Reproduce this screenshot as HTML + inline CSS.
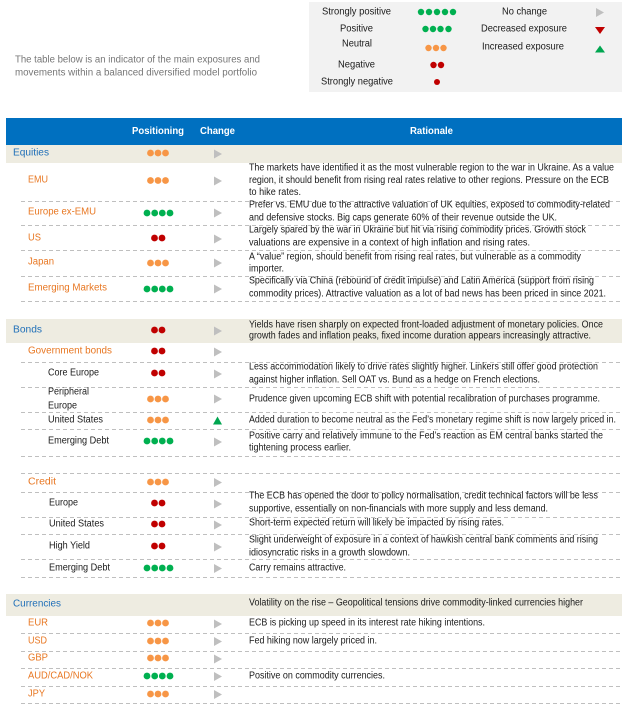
<!DOCTYPE html>
<html>
<head>
<meta charset="utf-8">
<style>
html,body{margin:0;padding:0;background:#fff;}
svg{display:block;}
text{font-family:"Liberation Sans",Arial,sans-serif;font-size:10px;dominant-baseline:central;}
.r{fill:#1a1a1a;}
.o{fill:#E87722;}
.b{fill:#1F6FB8;}
.k{fill:#1a1a1a;}
.h{fill:#fff;font-weight:bold;font-size:10.5px;}
.dash{stroke:#BFBFBF;stroke-width:1;stroke-dasharray:4 3;}
.tri{fill:#BFBFBF;}
.go{fill:#F79646;}
.gg{fill:#00B050;}
.gr{fill:#C00000;}
</style>
</head>
<body>
<svg width="628" height="705" viewBox="0 0 628 705" xmlns="http://www.w3.org/2000/svg">
<defs>
  <g id="o3"><circle cx="150.5" cy="0" r="3.4" class="go"/><circle cx="158" cy="0" r="3.4" class="go"/><circle cx="165.5" cy="0" r="3.4" class="go"/></g>
  <g id="g4"><circle cx="147" cy="0" r="3.4" class="gg"/><circle cx="154.7" cy="0" r="3.4" class="gg"/><circle cx="162.3" cy="0" r="3.4" class="gg"/><circle cx="170" cy="0" r="3.4" class="gg"/></g>
  <g id="r2"><circle cx="154.5" cy="0" r="3.4" class="gr"/><circle cx="162" cy="0" r="3.4" class="gr"/></g>
  <polygon id="pt" points="214,-4.5 222,0 214,4.5" class="tri"/>
</defs>

<!-- Intro -->
<text x="15" y="60" fill="#767676" textLength="245" lengthAdjust="spacingAndGlyphs">The table below is an indicator of the main exposures and</text>
<text x="15" y="73" fill="#767676" textLength="242" lengthAdjust="spacingAndGlyphs">movements within a balanced diversified model portfolio</text>

<!-- Legend -->
<rect x="309" y="2" width="313" height="90" fill="#F2F2F2"/>
<text x="322" y="12" class="k" textLength="69" lengthAdjust="spacingAndGlyphs">Strongly positive</text>
<g fill="#00B050"><circle cx="421" cy="12" r="3.2"/><circle cx="429" cy="12" r="3.2"/><circle cx="437" cy="12" r="3.2"/><circle cx="445" cy="12" r="3.2"/><circle cx="453" cy="12" r="3.2"/></g>
<text x="502" y="12" class="k" textLength="45" lengthAdjust="spacingAndGlyphs">No change</text>
<polygon points="596,8 604,12.5 596,17" fill="#BFBFBF"/>

<text x="340" y="29" class="k" textLength="33" lengthAdjust="spacingAndGlyphs">Positive</text>
<g fill="#00B050"><circle cx="425.5" cy="29" r="3.2"/><circle cx="433" cy="29" r="3.2"/><circle cx="440.5" cy="29" r="3.2"/><circle cx="448.5" cy="29" r="3.2"/></g>
<text x="481" y="29" class="k" textLength="86" lengthAdjust="spacingAndGlyphs">Decreased exposure</text>
<polygon points="595,27 605,27 600,34" fill="#C00000"/>

<text x="342" y="44" class="k" textLength="30" lengthAdjust="spacingAndGlyphs">Neutral</text>
<g fill="#F79646"><circle cx="428.5" cy="48" r="3.2"/><circle cx="436" cy="48" r="3.2"/><circle cx="443.5" cy="48" r="3.2"/></g>
<text x="482" y="47" class="k" textLength="82" lengthAdjust="spacingAndGlyphs">Increased exposure</text>
<polygon points="595,52.5 605,52.5 600,45.5" fill="#00A650"/>

<text x="338" y="65" class="k" textLength="37" lengthAdjust="spacingAndGlyphs">Negative</text>
<g fill="#C00000"><circle cx="433.5" cy="65" r="3.2"/><circle cx="441" cy="65" r="3.2"/></g>

<text x="321" y="82" class="k" textLength="72" lengthAdjust="spacingAndGlyphs">Strongly negative</text>
<circle cx="437" cy="82" r="3" fill="#C00000"/>

<!-- Header -->
<rect x="6" y="118" width="616" height="27" fill="#0070C0"/>
<text x="132" y="131" class="h" textLength="52" lengthAdjust="spacingAndGlyphs">Positioning</text>
<text x="200" y="131" class="h" textLength="35" lengthAdjust="spacingAndGlyphs">Change</text>
<text x="410" y="131" class="h" textLength="43" lengthAdjust="spacingAndGlyphs">Rationale</text>

<!-- Bands -->
<rect x="6" y="145" width="616" height="18" fill="#EEECE1"/>
<rect x="6" y="319" width="616" height="24" fill="#EEECE1"/>
<rect x="6" y="594" width="616" height="22" fill="#EEECE1"/>

<!-- Dashed lines -->
<g class="dash">
<line x1="21" y1="201.5" x2="622" y2="201.5"/>
<line x1="21" y1="225.5" x2="622" y2="225.5"/>
<line x1="21" y1="250.5" x2="622" y2="250.5"/>
<line x1="21" y1="276.5" x2="622" y2="276.5"/>
<line x1="21" y1="301.5" x2="622" y2="301.5"/>
<line x1="21" y1="362.5" x2="622" y2="362.5"/>
<line x1="21" y1="387.5" x2="622" y2="387.5"/>
<line x1="21" y1="412.5" x2="622" y2="412.5"/>
<line x1="21" y1="429.5" x2="622" y2="429.5"/>
<line x1="21" y1="456.5" x2="622" y2="456.5"/>
<line x1="21" y1="473.5" x2="622" y2="473.5"/>
<line x1="21" y1="492.5" x2="622" y2="492.5"/>
<line x1="21" y1="517.5" x2="622" y2="517.5"/>
<line x1="21" y1="534.5" x2="622" y2="534.5"/>
<line x1="21" y1="559.5" x2="622" y2="559.5"/>
<line x1="21" y1="577.5" x2="622" y2="577.5"/>
<line x1="21" y1="633.5" x2="622" y2="633.5"/>
<line x1="21" y1="651.5" x2="622" y2="651.5"/>
<line x1="21" y1="668.5" x2="622" y2="668.5"/>
<line x1="21" y1="686.5" x2="622" y2="686.5"/>
<line x1="21" y1="703.5" x2="622" y2="703.5"/>
</g>

<!-- Equities -->
<text x="13" y="153" class="b" textLength="36" lengthAdjust="spacingAndGlyphs">Equities</text>
<use href="#o3" y="153"/><use href="#pt" y="154"/>

<text x="28" y="180" class="o" textLength="20" lengthAdjust="spacingAndGlyphs">EMU</text>
<use href="#o3" y="180.5"/><use href="#pt" y="181"/>
<text x="249" y="168" class="r" textLength="365" lengthAdjust="spacingAndGlyphs">The markets have identified it as the most vulnerable region to the war in Ukraine. As a value</text>
<text x="249" y="180.5" class="r" textLength="360" lengthAdjust="spacingAndGlyphs">region, it should benefit from rising real rates relative to other regions. Pressure on the ECB</text>
<text x="249" y="192.5" class="r" textLength="52" lengthAdjust="spacingAndGlyphs">to hike rates.</text>

<text x="28" y="212" class="o" textLength="68" lengthAdjust="spacingAndGlyphs">Europe ex-EMU</text>
<use href="#g4" y="213"/><use href="#pt" y="213"/>
<text x="249" y="205" class="r" textLength="361" lengthAdjust="spacingAndGlyphs">Prefer vs. EMU due to the attractive valuation of UK equities, exposed to commodity-related</text>
<text x="249" y="218" class="r" textLength="308" lengthAdjust="spacingAndGlyphs">and defensive stocks. Big caps generate 60% of their revenue outside the UK.</text>

<text x="28" y="238" class="o" textLength="13" lengthAdjust="spacingAndGlyphs">US</text>
<use href="#r2" y="238"/><use href="#pt" y="239"/>
<text x="249" y="230" class="r" textLength="337" lengthAdjust="spacingAndGlyphs">Largely spared by the war in Ukraine but hit via rising commodity prices. Growth stock</text>
<text x="249" y="243" class="r" textLength="281" lengthAdjust="spacingAndGlyphs">valuations are expensive in a context of high inflation and rising rates.</text>

<text x="28" y="262" class="o" textLength="26" lengthAdjust="spacingAndGlyphs">Japan</text>
<use href="#o3" y="263"/><use href="#pt" y="263"/>
<text x="249" y="257" class="r" textLength="332" lengthAdjust="spacingAndGlyphs">A “value” region, should benefit from rising real rates, but vulnerable as a commodity</text>
<text x="249" y="269" class="r" textLength="35" lengthAdjust="spacingAndGlyphs">importer.</text>

<text x="28" y="288" class="o" textLength="79" lengthAdjust="spacingAndGlyphs">Emerging Markets</text>
<use href="#g4" y="289"/><use href="#pt" y="289"/>
<text x="249" y="281" class="r" textLength="345" lengthAdjust="spacingAndGlyphs">Specifically via China (rebound of credit impulse) and Latin America (support from rising</text>
<text x="249" y="294" class="r" textLength="357" lengthAdjust="spacingAndGlyphs">commodity prices). Attractive valuation as a lot of bad news has been priced in since 2021.</text>

<!-- Bonds -->
<text x="13" y="330" class="b" textLength="29" lengthAdjust="spacingAndGlyphs">Bonds</text>
<use href="#r2" y="330"/><use href="#pt" y="331"/>
<text x="249" y="325" class="r" textLength="354" lengthAdjust="spacingAndGlyphs">Yields have risen sharply on expected front-loaded adjustment of monetary policies. Once</text>
<text x="249" y="336" class="r" textLength="342" lengthAdjust="spacingAndGlyphs">growth fades and inflation peaks, fixed income duration appears increasingly attractive.</text>

<text x="28" y="351" class="o" textLength="84" lengthAdjust="spacingAndGlyphs">Government bonds</text>
<use href="#r2" y="351"/><use href="#pt" y="352"/>

<text x="48" y="373" class="k" textLength="51" lengthAdjust="spacingAndGlyphs">Core Europe</text>
<use href="#r2" y="373"/><use href="#pt" y="374"/>
<text x="249" y="367" class="r" textLength="349" lengthAdjust="spacingAndGlyphs">Less accommodation likely to drive rates slightly higher. Linkers still offer good protection</text>
<text x="249" y="380" class="r" textLength="291" lengthAdjust="spacingAndGlyphs">against higher inflation. Sell OAT vs. Bund as a hedge on French elections.</text>

<text x="48" y="392" class="k" textLength="41" lengthAdjust="spacingAndGlyphs">Peripheral</text>
<text x="48" y="406" class="k" textLength="29" lengthAdjust="spacingAndGlyphs">Europe</text>
<use href="#o3" y="399"/><use href="#pt" y="399"/>
<text x="249" y="399" class="r" textLength="351" lengthAdjust="spacingAndGlyphs">Prudence given upcoming ECB shift with potential recalibration of purchases programme.</text>

<text x="48" y="420" class="k" textLength="55" lengthAdjust="spacingAndGlyphs">United States</text>
<use href="#o3" y="420"/>
<polygon points="213,424.5 222,424.5 217.5,416.5" fill="#00A650"/>
<text x="249" y="420" class="r" textLength="367" lengthAdjust="spacingAndGlyphs">Added duration to become neutral as the Fed’s monetary regime shift is now largely priced in.</text>

<text x="48" y="441" class="k" textLength="61" lengthAdjust="spacingAndGlyphs">Emerging Debt</text>
<use href="#g4" y="441"/><use href="#pt" y="442"/>
<text x="249" y="436" class="r" textLength="354" lengthAdjust="spacingAndGlyphs">Positive carry and relatively immune to the Fed’s reaction as EM central banks started the</text>
<text x="249" y="448" class="r" textLength="102" lengthAdjust="spacingAndGlyphs">tightening process earlier.</text>

<text x="28" y="482" class="o" textLength="28" lengthAdjust="spacingAndGlyphs">Credit</text>
<use href="#o3" y="482"/><use href="#pt" y="482.5"/>

<text x="49" y="503" class="k" textLength="29" lengthAdjust="spacingAndGlyphs">Europe</text>
<use href="#r2" y="503"/><use href="#pt" y="504"/>
<text x="249" y="496" class="r" textLength="349" lengthAdjust="spacingAndGlyphs">The ECB has opened the door to policy normalisation, credit technical factors will be less</text>
<text x="249" y="509" class="r" textLength="299" lengthAdjust="spacingAndGlyphs">supportive, essentially on non-financials with more supply and less demand.</text>

<text x="49" y="524" class="k" textLength="55" lengthAdjust="spacingAndGlyphs">United States</text>
<use href="#r2" y="524"/><use href="#pt" y="525"/>
<text x="249" y="523" class="r" textLength="255" lengthAdjust="spacingAndGlyphs">Short-term expected return will likely be impacted by rising rates.</text>

<text x="49" y="546" class="k" textLength="41" lengthAdjust="spacingAndGlyphs">High Yield</text>
<use href="#r2" y="546"/><use href="#pt" y="547"/>
<text x="249" y="540" class="r" textLength="349" lengthAdjust="spacingAndGlyphs">Slight underweight of exposure in a context of hawkish central bank comments and rising</text>
<text x="249" y="553" class="r" textLength="161" lengthAdjust="spacingAndGlyphs">idiosyncratic risks in a growth slowdown.</text>

<text x="49" y="568" class="k" textLength="61" lengthAdjust="spacingAndGlyphs">Emerging Debt</text>
<use href="#g4" y="568"/><use href="#pt" y="568.5"/>
<text x="249" y="568" class="r" textLength="97" lengthAdjust="spacingAndGlyphs">Carry remains attractive.</text>

<!-- Currencies -->
<text x="13" y="604" class="b" textLength="48" lengthAdjust="spacingAndGlyphs">Currencies</text>
<text x="249" y="603" class="r" textLength="334" lengthAdjust="spacingAndGlyphs">Volatility on the rise – Geopolitical tensions drive commodity-linked currencies higher</text>

<text x="28" y="623" class="o" textLength="20" lengthAdjust="spacingAndGlyphs">EUR</text>
<use href="#o3" y="623"/><use href="#pt" y="624"/>
<text x="249" y="623" class="r" textLength="236" lengthAdjust="spacingAndGlyphs">ECB is picking up speed in its interest rate hiking intentions.</text>

<text x="28" y="641" class="o" textLength="19" lengthAdjust="spacingAndGlyphs">USD</text>
<use href="#o3" y="641"/><use href="#pt" y="641.5"/>
<text x="249" y="641" class="r" textLength="128" lengthAdjust="spacingAndGlyphs">Fed hiking now largely priced in.</text>

<text x="28" y="658" class="o" textLength="20" lengthAdjust="spacingAndGlyphs">GBP</text>
<use href="#o3" y="658"/><use href="#pt" y="659"/>

<text x="28" y="676" class="o" textLength="65" lengthAdjust="spacingAndGlyphs">AUD/CAD/NOK</text>
<use href="#g4" y="676"/><use href="#pt" y="676.5"/>
<text x="249" y="676" class="r" textLength="136" lengthAdjust="spacingAndGlyphs">Positive on commodity currencies.</text>

<text x="28" y="694" class="o" textLength="17" lengthAdjust="spacingAndGlyphs">JPY</text>
<use href="#o3" y="694"/><use href="#pt" y="694.5"/>
</svg>
</body>
</html>
